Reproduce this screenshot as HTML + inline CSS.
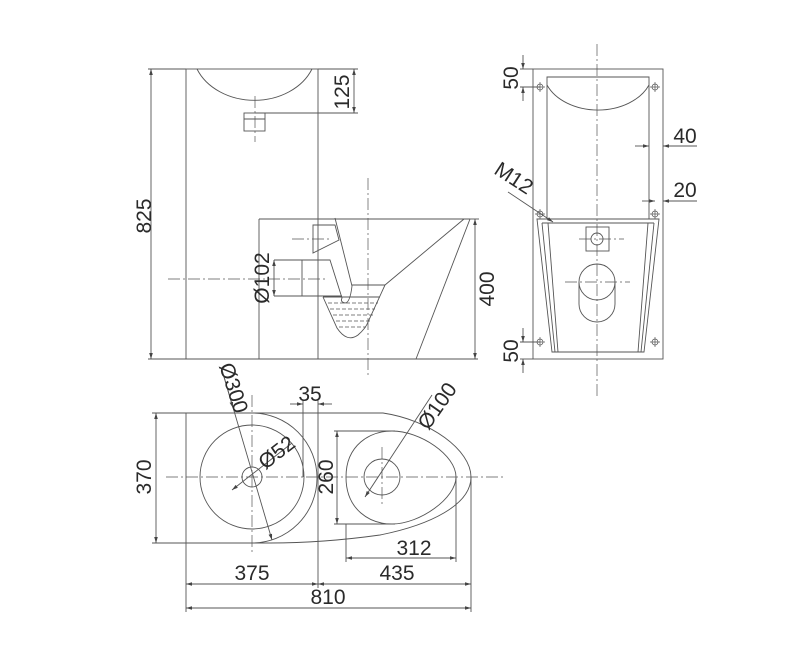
<!DOCTYPE html>
<html><head><meta charset="utf-8"><style>
html,body{margin:0;padding:0;background:#fff;}
svg{display:block;}
text{font-family:"Liberation Sans",sans-serif;font-size:21px;fill:#2a2a2a;}
</style></head><body>
<svg width="800" height="657" viewBox="0 0 800 657" xmlns="http://www.w3.org/2000/svg">
<defs>
<marker id="a" viewBox="0 0 10 6" refX="10" refY="3" markerWidth="7" markerHeight="4" orient="auto-start-reverse"><path d="M0,0 L10,3 L0,6 z" fill="#444"/></marker>
</defs>
<g fill="none" stroke="#555" stroke-width="0.9">
<rect x="186" y="69" width="132" height="290"/>
<path d="M197,69 A62,50 0 0 0 312,69"/>
<rect x="244" y="113" width="21" height="18"/>
<line x1="244" y1="119" x2="265" y2="119"/>
<line x1="259" y1="219" x2="259" y2="359"/>
<line x1="259" y1="219" x2="470" y2="219"/>
<line x1="470" y1="219" x2="416" y2="359"/>
<line x1="464" y1="219" x2="385" y2="285"/>
<line x1="352" y1="285" x2="385" y2="285"/>
<path d="M313,225 L335,225 L339,240 L313,253 Z"/>
<path d="M335,218 L352,286 Q350,303 345,303 Q340,302 342,298 L330,260 L302,260 L302,296"/>
<line x1="274" y1="296" x2="342" y2="296"/>
<line x1="274" y1="260" x2="302" y2="260"/>
<path d="M323,297 L337,328 Q347,343 358,335 Q366,328 368,322 L385,285"/>
<line x1="323" y1="297" x2="380" y2="297"/>
<g stroke-dasharray="4 2" stroke-width="0.7">
<line x1="328" y1="303" x2="378" y2="303"/><line x1="330" y1="309" x2="375" y2="309"/><line x1="333" y1="315" x2="373" y2="315"/><line x1="336" y1="321" x2="370" y2="321"/><line x1="339" y1="327" x2="366" y2="327"/>
</g>
<g stroke-dasharray="12 3 2 3" stroke-width="0.7">
<line x1="255" y1="96" x2="255" y2="142"/>
<line x1="368" y1="178" x2="368" y2="378"/>
<line x1="168" y1="279" x2="326" y2="279"/>
<line x1="292" y1="239" x2="330" y2="239"/>
</g>
<line x1="148" y1="69" x2="186" y2="69"/>
<line x1="148" y1="359" x2="478" y2="359"/>
<line x1="151" y1="69" x2="151" y2="359" marker-start="url(#a)" marker-end="url(#a)"/>
<line x1="318" y1="69" x2="358" y2="69"/>
<line x1="255" y1="113" x2="358" y2="113"/>
<line x1="354" y1="69" x2="354" y2="113" marker-start="url(#a)" marker-end="url(#a)"/>
<line x1="274" y1="260" x2="274" y2="296" marker-start="url(#a)" marker-end="url(#a)"/>
<line x1="470" y1="219" x2="479" y2="219"/>
<line x1="475" y1="219" x2="475" y2="359" marker-start="url(#a)" marker-end="url(#a)"/>

<rect x="533" y="69" width="130" height="290"/>
<path d="M547,219 L547,77 L649,77 L649,219"/>
<path d="M547,85 A55,40 0 0 0 649,85"/>
<path d="M537,219 L659,219 L644,352 L552,352 Z"/>
<path d="M542,223 L654,223 M542,223 L555,352 M654,223 L641,352 M548,223 L558,352 M648,223 L638,352"/>
<rect x="586" y="227" width="23" height="24"/>
<circle cx="597" cy="239" r="6"/>
<path d="M579,282 A18,18 0 0 1 615,282 L615,304 A18,18 0 0 1 579,304 Z"/>
<path d="M579,282 A18,18 0 0 0 615,282"/>
<g stroke-dasharray="12 3 2 3" stroke-width="0.7">
<line x1="597" y1="44" x2="597" y2="398"/>
<line x1="579" y1="239" x2="624" y2="239"/>
<line x1="565" y1="282" x2="630" y2="282"/>
</g>
<g stroke-width="0.7">
<circle cx="540" cy="87" r="3"/><circle cx="655" cy="87" r="3"/>
<circle cx="540" cy="214" r="3"/><circle cx="655" cy="214" r="3"/>
<circle cx="540" cy="342" r="3"/><circle cx="655" cy="342" r="3"/>
<path d="M535,87h10M540,82v10M650,87h10M655,82v10M535,214h10M540,209v10M650,214h10M655,209v10M535,342h10M540,337v10M650,342h10M655,337v10"/>
</g>
<line x1="520" y1="69" x2="533" y2="69"/><line x1="520" y1="87" x2="540" y2="87"/>
<line x1="523" y1="55" x2="523" y2="69" marker-end="url(#a)"/><line x1="523" y1="101" x2="523" y2="87" marker-end="url(#a)"/>
<line x1="520" y1="342" x2="540" y2="342"/><line x1="520" y1="359" x2="533" y2="359"/>
<line x1="523" y1="328" x2="523" y2="342" marker-end="url(#a)"/><line x1="523" y1="373" x2="523" y2="359" marker-end="url(#a)"/>
<line x1="635" y1="146" x2="649" y2="146" marker-end="url(#a)"/><line x1="697" y1="146" x2="663" y2="146" marker-end="url(#a)"/>
<line x1="642" y1="201" x2="655" y2="201" marker-end="url(#a)"/><line x1="697" y1="201" x2="663" y2="201" marker-end="url(#a)"/>
<line x1="508" y1="192" x2="553" y2="222" marker-end="url(#a)"/>

<path d="M186,413 L383,413 C430,420 471,450 471,477 C471,505 430,525 380,535 C330,542 290,543 270,543 L186,543 Z"/>
<path d="M252,413 A65,65 0 0 1 252,543"/>
<circle cx="252" cy="477" r="52"/>
<circle cx="252" cy="477" r="10"/>
<path d="M346,477 C346,445 370,431 392,431 C420,431 456,455 456,477 C456,498 420,524 392,524 C370,524 346,510 346,477 Z"/>
<circle cx="382" cy="477" r="18"/>
<g stroke-dasharray="12 3 2 3" stroke-width="0.7">
<line x1="166" y1="477" x2="503" y2="477"/>
<line x1="252" y1="395" x2="252" y2="555"/>
<line x1="382" y1="447" x2="382" y2="507"/>
</g>
<line x1="152" y1="413" x2="186" y2="413"/><line x1="152" y1="543" x2="186" y2="543"/>
<line x1="156" y1="413" x2="156" y2="543" marker-start="url(#a)" marker-end="url(#a)"/>
<line x1="334" y1="431" x2="395" y2="431"/><line x1="334" y1="524" x2="395" y2="524"/>
<line x1="337" y1="431" x2="337" y2="524" marker-start="url(#a)" marker-end="url(#a)"/>
<line x1="303" y1="400" x2="303" y2="477"/><line x1="318" y1="400" x2="318" y2="588"/>
<line x1="290" y1="404" x2="303" y2="404" marker-end="url(#a)"/><line x1="332" y1="404" x2="318" y2="404" marker-end="url(#a)"/>
<line x1="186" y1="543" x2="186" y2="612"/><line x1="471" y1="477" x2="471" y2="612"/>
<line x1="346" y1="524" x2="346" y2="562"/><line x1="456" y1="477" x2="456" y2="562"/>
<line x1="346" y1="558" x2="456" y2="558" marker-start="url(#a)" marker-end="url(#a)"/>
<line x1="186" y1="584" x2="318" y2="584" marker-start="url(#a)" marker-end="url(#a)"/>
<line x1="318" y1="584" x2="471" y2="584" marker-start="url(#a)" marker-end="url(#a)"/>
<line x1="186" y1="608" x2="471" y2="608" marker-start="url(#a)" marker-end="url(#a)"/>
<line x1="222" y1="370" x2="272" y2="540" marker-end="url(#a)"/>
<line x1="222" y1="370" x2="233" y2="408" marker-end="url(#a)"/>
<line x1="232" y1="490" x2="292" y2="443" marker-start="url(#a)"/>
<line x1="365" y1="497" x2="432" y2="395" marker-start="url(#a)"/>
</g>
<text transform="translate(151,216) rotate(-90)" text-anchor="middle">825</text>
<text transform="translate(349,92) rotate(-90)" text-anchor="middle">125</text>
<text transform="translate(269,278) rotate(-90)" text-anchor="middle">Ø102</text>
<text transform="translate(494,289) rotate(-90)" text-anchor="middle">400</text>
<text transform="translate(518,78) rotate(-90)" text-anchor="middle">50</text>
<text transform="translate(518,351) rotate(-90)" text-anchor="middle">50</text>
<text x="685" y="143" text-anchor="middle">40</text>
<text x="685" y="197" text-anchor="middle">20</text>
<text transform="translate(510,184) rotate(33)" text-anchor="middle">M12</text>
<text transform="translate(151,477) rotate(-90)" text-anchor="middle">370</text>
<text transform="translate(333,477) rotate(-90)" text-anchor="middle">260</text>
<text x="310" y="401" text-anchor="middle">35</text>
<text x="252" y="580" text-anchor="middle">375</text>
<text x="397" y="580" text-anchor="middle">435</text>
<text x="414" y="555" text-anchor="middle">312</text>
<text x="328" y="604" text-anchor="middle">810</text>
<text transform="translate(227,390) rotate(72)" text-anchor="middle">Ø300</text>
<text transform="translate(281,458) rotate(-38)" text-anchor="middle">Ø52</text>
<text transform="translate(443,410) rotate(-55)" text-anchor="middle">Ø100</text>
</svg>
</body></html>
